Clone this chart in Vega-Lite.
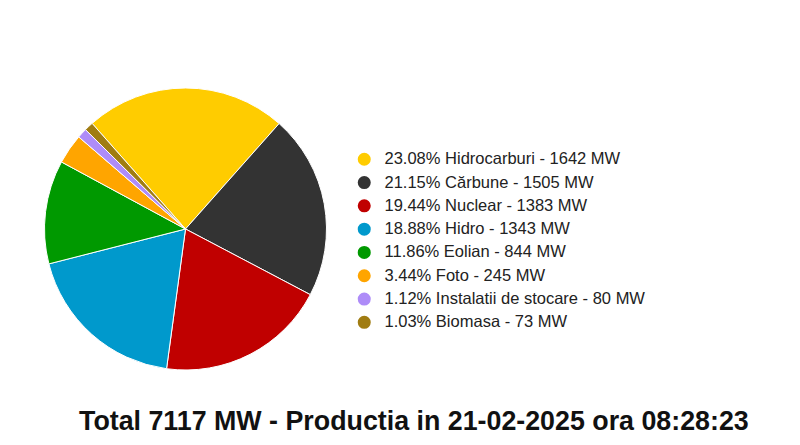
{
  "$schema": "https://vega.github.io/schema/vega-lite/v6.json",
  "width": 371,
  "height": 458,
  "padding": 0,
  "autosize": {"type": "pad"},
  "background": "white",
  "config": {"view": {"stroke": null}},
  "title": {
    "text": "Total 7117 MW - Productia in 21-02-2025 ora 08:28:23",
    "orient": "bottom",
    "anchor": "start",
    "offset": -49,
    "dx": 79,
    "font": "Liberation Sans",
    "fontSize": 26.8,
    "fontWeight": "bold",
    "color": "#111111"
  },
  "data": {
    "values": [
      {"order": 1, "label": "23.08% Hidrocarburi - 1642 MW", "mw": 1642},
      {"order": 2, "label": "21.15% Cărbune - 1505 MW", "mw": 1505},
      {"order": 3, "label": "19.44% Nuclear - 1383 MW", "mw": 1383},
      {"order": 4, "label": "18.88% Hidro - 1343 MW", "mw": 1343},
      {"order": 5, "label": "11.86% Eolian - 844 MW", "mw": 844},
      {"order": 6, "label": "3.44% Foto - 245 MW", "mw": 245},
      {"order": 7, "label": "1.12% Instalatii de stocare - 80 MW", "mw": 80},
      {"order": 8, "label": "1.03% Biomasa - 73 MW", "mw": 73}
    ]
  },
  "mark": {"type": "arc", "outerRadius": 141, "stroke": "white", "strokeWidth": 1},
  "encoding": {
    "theta": {
      "field": "mw",
      "type": "quantitative",
      "stack": true,
      "scale": {"range": [-0.724, 5.5592]}
    },
    "order": {"field": "order", "type": "quantitative"},
    "color": {
      "field": "label",
      "type": "nominal",
      "sort": {"field": "order"},
      "scale": {
        "domain": [
          "23.08% Hidrocarburi - 1642 MW",
          "21.15% Cărbune - 1505 MW",
          "19.44% Nuclear - 1383 MW",
          "18.88% Hidro - 1343 MW",
          "11.86% Eolian - 844 MW",
          "3.44% Foto - 245 MW",
          "1.12% Instalatii de stocare - 80 MW",
          "1.03% Biomasa - 73 MW"
        ],
        "range": ["#FFCC00", "#333333", "#C00000", "#0099CC", "#009900", "#FFA500", "#AE8CF8", "#A07C12"]
      },
      "legend": {
        "title": null,
        "orient": "none",
        "legendX": 356,
        "legendY": 151,
        "padding": 0,
        "symbolType": "circle",
        "symbolSize": 170,
        "symbolStrokeWidth": 0,
        "labelFont": "Liberation Sans",
        "labelFontSize": 16.5,
        "labelColor": "#222222",
        "labelOffset": 12,
        "rowPadding": 6.3,
        "labelLimit": 450
      }
    }
  }
}
